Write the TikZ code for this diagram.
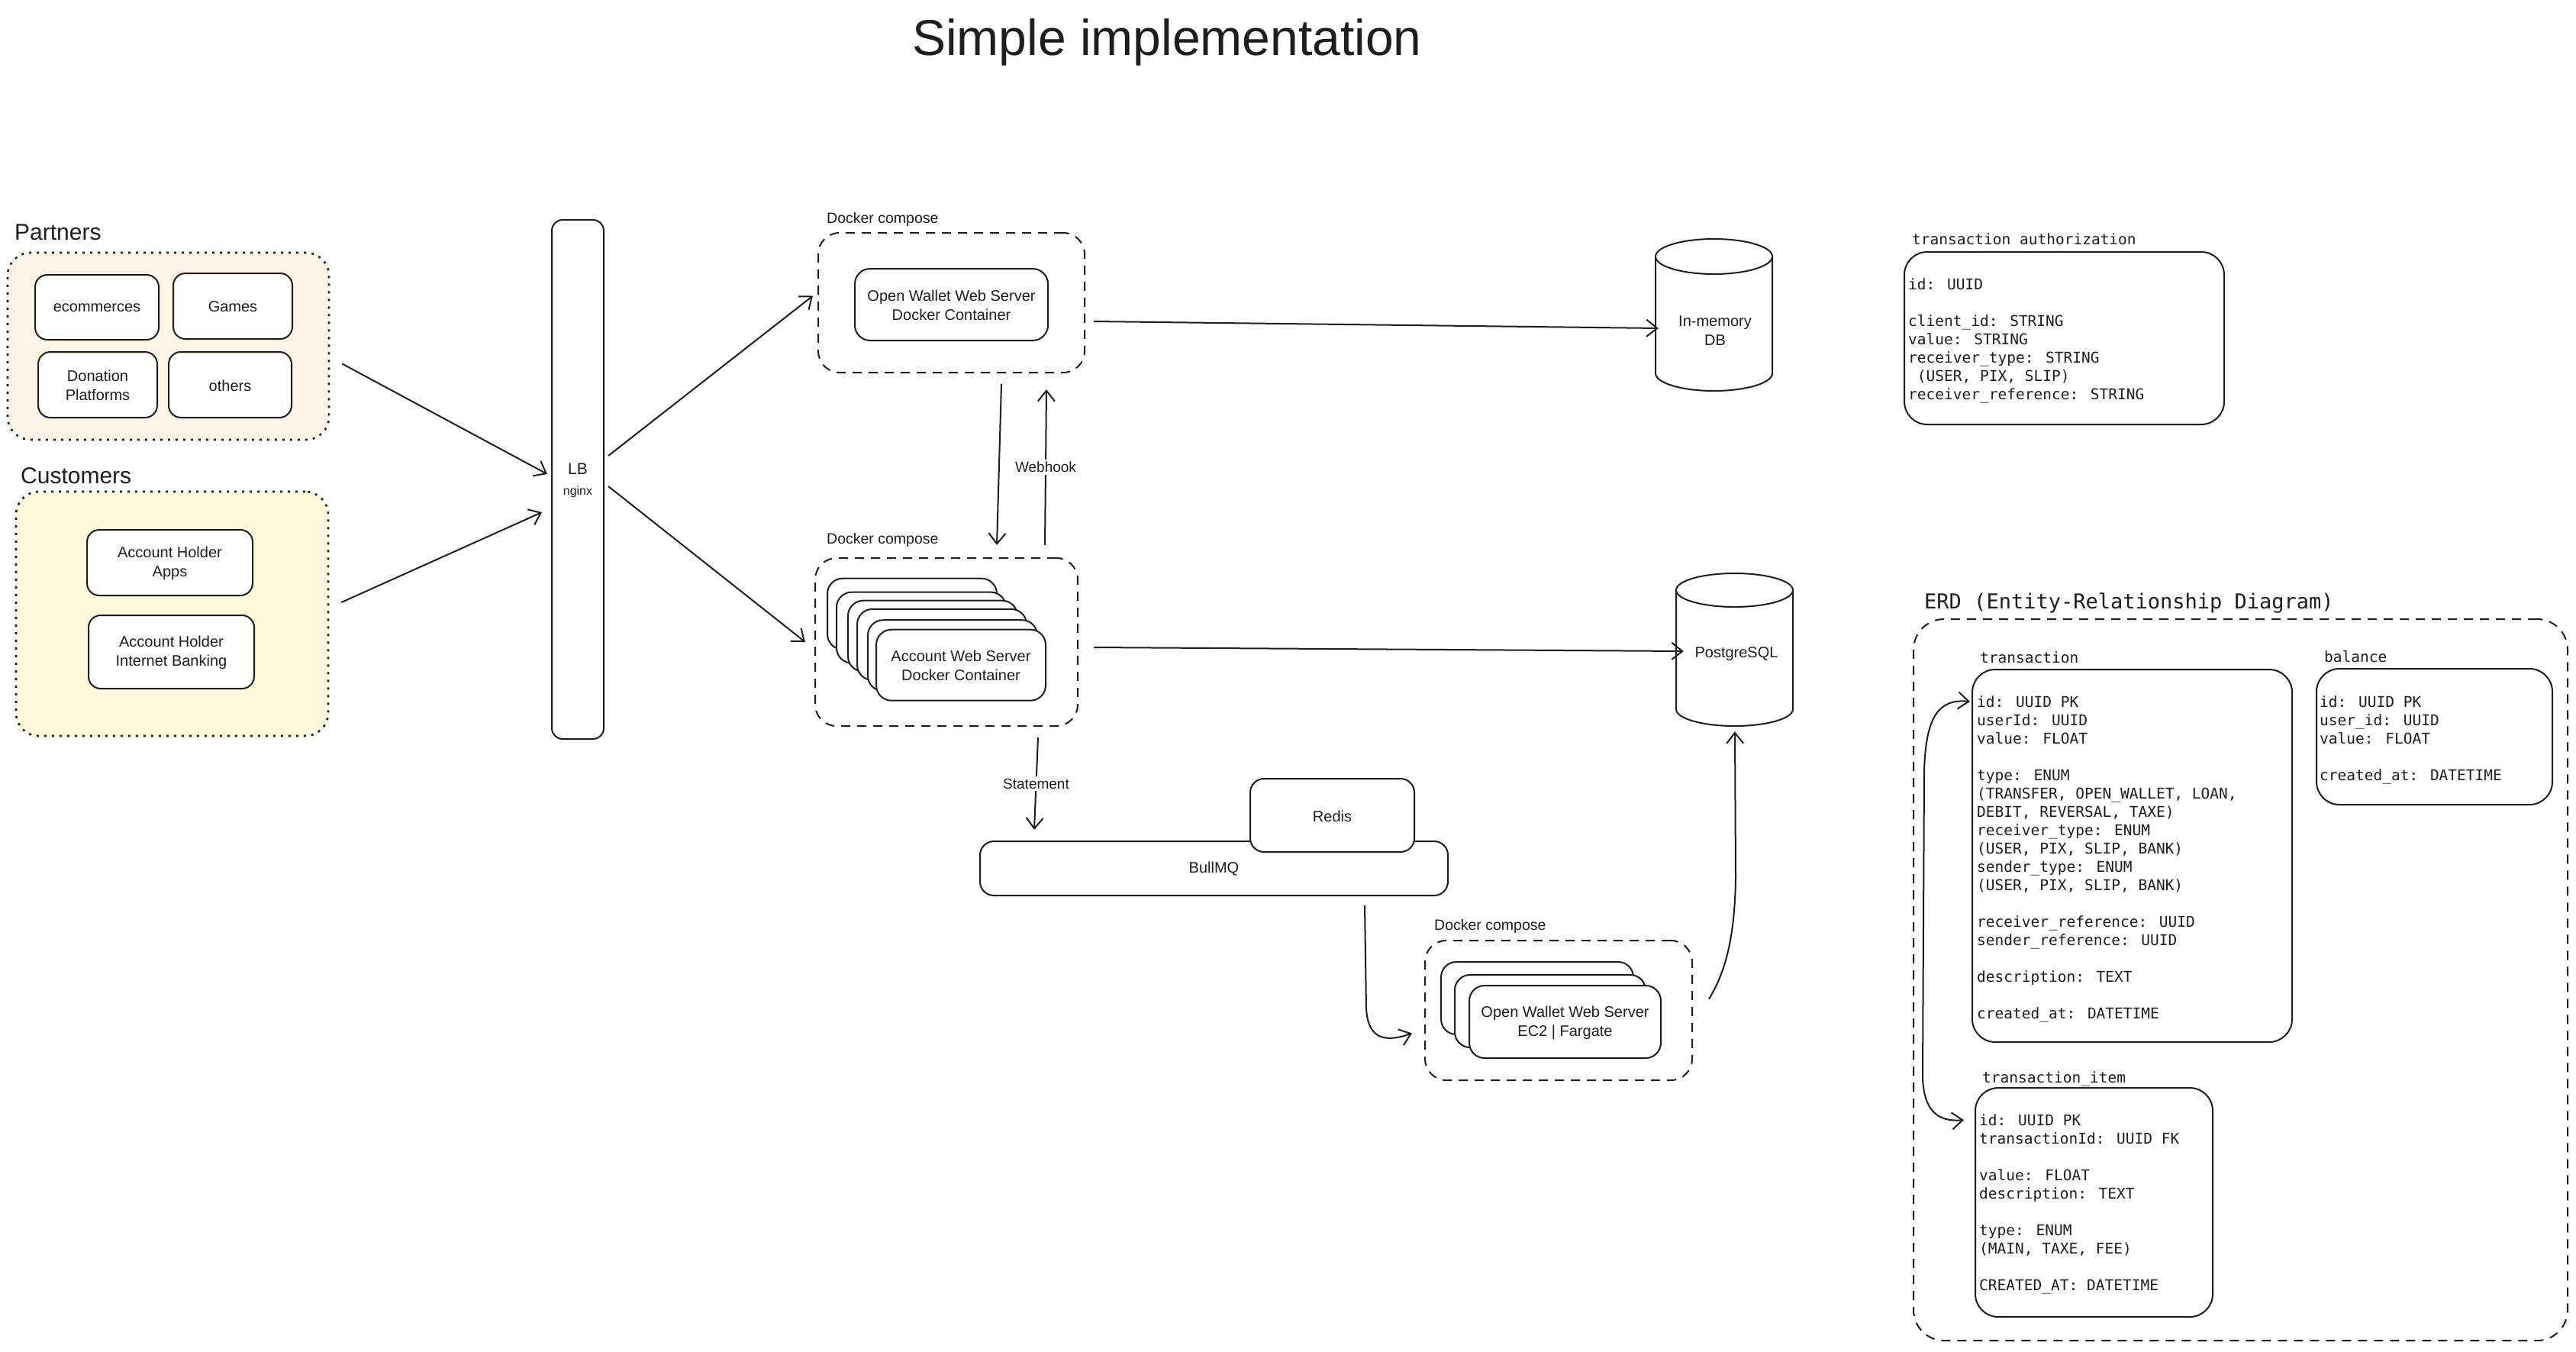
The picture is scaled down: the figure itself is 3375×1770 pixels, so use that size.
\documentclass[tikz,border=0pt]{standalone}
\usepackage{fontspec}
\setmainfont{Liberation Sans}
\newfontfamily\erdmono{DejaVu Sans Mono}
\usetikzlibrary{arrows.meta,calc,fit}
\definecolor{ink}{HTML}{1E1E1E}
\definecolor{partfill}{HTML}{FFF4E6}
\definecolor{custfill}{HTML}{FFF9DB}
% #1 options, #2 name, #3 x1, #4 y1, #5 x2, #6 y2, #7 text
\newcommand{\framedtext}[7]{%
  \node[boxn,#1,fit={(#3,#4) (#5,#6)}] (#2) {};
  \node[boxtxt] (#2t) at ($(#2.center)+(0,1)$) {#7};}
\begin{document}
\begin{tikzpicture}[x=1pt,y=-1pt,
  every node/.style={text=ink},
  hand/.style={font=\fontsize{20}{25}\selectfont},
  boxn/.style={draw=ink, line width=2pt, rounded corners=16pt, fill=white, inner sep=0pt},
  boxtxt/.style={inner sep=0pt, align=center, hand},
  grp/.style={draw=ink, line width=2.6pt, dash pattern=on 3pt off 7pt, rounded corners=30pt, inner sep=0pt},
  compose/.style={draw=ink, line width=2pt, dash pattern=on 12pt off 9pt, rounded corners=28pt, inner sep=0pt},
  erdbox/.style={draw=ink, line width=2pt, rounded corners=30pt, inner sep=0pt},
  monotext/.style={anchor=north west, inner sep=0pt, align=left, font=\erdmono\fontsize{19.5}{24}\selectfont},
  monolbl/.style={anchor=base west, inner sep=0pt, font=\erdmono\fontsize{19.5}{24}\selectfont},
  lbl/.style={anchor=base west, inner sep=0pt, font=\fontsize{19.5}{24}\selectfont},
  edgelbl/.style={fill=white, inner sep=3pt, font=\fontsize{19}{23}\selectfont},
  arr/.style={draw=ink, line width=2pt, -{Straight Barb[length=14pt,width=22pt]}},
  arrb/.style={draw=ink, line width=2pt, {Straight Barb[length=14pt,width=22pt]}-{Straight Barb[length=14pt,width=22pt]}}
]
\fill[white] (0,0) rectangle (3375,1770);
\useasboundingbox (0,0) rectangle (3375,1770);

% title
\node[anchor=base, inner sep=0pt, font=\fontsize{66}{72}\selectfont] (title) at (1529,72) {Simple implementation};

% Partners
\node[grp, fill=partfill, fit={(10,331) (431,576)}] (partners) {};
\node[anchor=base west, inner sep=0pt, font=\fontsize{30}{36}\selectfont] (partnerslbl) at (19,314) {Partners};
\framedtext{}{ecom}{46}{360}{208}{445}{ecommerces}
\framedtext{}{games}{227}{358}{383}{444}{Games}
\framedtext{}{donation}{50}{461}{206}{547}{Donation\\Platforms}
\framedtext{}{others}{221}{461}{382}{547}{others}

% Customers
\node[grp, fill=custfill, fit={(21,644) (430,964)}] (customers) {};
\node[anchor=base west, inner sep=0pt, font=\fontsize{30}{36}\selectfont] (customerslbl) at (27,633) {Customers};
\framedtext{}{apps}{114}{694}{331}{780}{Account Holder\\Apps}
\framedtext{}{ib}{116}{806}{333}{902}{Account Holder\\Internet Banking}

% LB
\node[boxn, rounded corners=14pt, fit={(723,288) (791,968)}] (lb) {};
\node[inner sep=0pt, align=center, font=\fontsize{21}{27}\selectfont] (lbt) at ($(lb.center)+(0,1)$) {LB\\{\fontsize{16}{20}\selectfont nginx}};

% Docker compose 1
\node[lbl] (dc1lbl) at (1083,292) {Docker compose};
\node[compose, fit={(1072,305) (1421,488)}] (owc) {};
\framedtext{rounded corners=20pt}{ow}{1120}{352}{1373}{446}{Open Wallet Web Server\\Docker Container}

% Docker compose 2
\node[lbl] (dc2lbl) at (1083,712) {Docker compose};
\node[compose, fit={(1068,731) (1412,951)}] (accc) {};
\foreach \i/\l/\t in {1/1084/757.7, 2/1096/775.6, 3/1111/786.7, 4/1123/797.9, 5/1137/812.2}
  \node[boxn, rounded corners=20pt, fit={(\l,\t) (\l+222,\t+93)}] (acc\i) {};
\framedtext{rounded corners=20pt}{acc}{1148}{824.7}{1370}{917.7}{Account Web Server\\Docker Container}

% In-memory DB
\node[inner sep=0pt, minimum width=153pt, minimum height=199pt] (db) at (2245.5,412.5) {};
\draw[ink, line width=2pt, fill=white] (2169,336) -- (2169,489) arc[start angle=180, end angle=360, x radius=76.5pt, y radius=23pt] -- (2322,336);
\draw[ink, line width=2pt, fill=white] (2245.5,336) ellipse [x radius=76.5pt, y radius=23pt];
\node[boxtxt] (dbtext) at (2247,433) {In-memory\\DB};

% PostgreSQL
\node[inner sep=0pt, minimum width=153pt, minimum height=202pt] (pg) at (2272.5,850) {};
\draw[ink, line width=2pt, fill=white] (2196,773) -- (2196,929) arc[start angle=180, end angle=360, x radius=76.5pt, y radius=22pt] -- (2349,773);
\draw[ink, line width=2pt, fill=white] (2272.5,773) ellipse [x radius=76.5pt, y radius=22pt];
\node[boxtxt] (pgtext) at (2275,857) {PostgreSQL};

% BullMQ + Redis
\framedtext{rounded corners=18pt}{bull}{1284}{1102}{1897}{1173}{BullMQ}
\framedtext{rounded corners=18pt}{redis}{1638}{1020}{1853}{1116}{Redis}

% Docker compose 3
\node[lbl] (dc3lbl) at (1879,1218) {Docker compose};
\node[compose, fit={(1867,1232) (2217,1415)}] (ec2c) {};
\node[boxn, rounded corners=20pt, fit={(1888,1260) (2140,1355)}] (ec1) {};
\node[boxn, rounded corners=20pt, fit={(1906,1277) (2156,1372)}] (ec2) {};
\framedtext{rounded corners=20pt}{ec}{1925}{1291}{2176}{1386}{Open Wallet Web Server\\EC2 | Fargate}

% transaction authorization
\node[monolbl] (talbl) at (2505,320) {transaction authorization};
\node[erdbox, fit={(2495,330) (2914,556)}] (ta) {};
\node[monotext] (tatext) at (2500,362.2) {\strut id: UUID\\[24pt]
client\_id: STRING\\
value: STRING\\
receiver\_type: STRING\\
~(USER, PIX, SLIP)\\
receiver\_reference: STRING};

% ERD
\node[anchor=base west, inner sep=0pt, font=\erdmono\fontsize{27}{32}\selectfont] (erdlbl) at (2521,797) {ERD (Entity-Relationship Diagram)};
\node[compose, rounded corners=40pt, fit={(2507,811) (3364,1756)}] (erd) {};

\node[monolbl] (txnlbl) at (2594,868) {transaction};
\node[erdbox, fit={(2584,877) (3003,1365)}] (txn) {};
\node[monotext] (txntext) at (2590,909.2) {\strut id: UUID PK\\
userId: UUID\\
value: FLOAT\\[24pt]
type: ENUM\\
(TRANSFER, OPEN\_WALLET, LOAN,\\
DEBIT, REVERSAL, TAXE)\\
receiver\_type: ENUM\\
(USER, PIX, SLIP, BANK)\\
sender\_type: ENUM\\
(USER, PIX, SLIP, BANK)\\[24pt]
receiver\_reference: UUID\\
sender\_reference: UUID\\[24pt]
description: TEXT\\[24pt]
created\_at: DATETIME};

\node[monolbl] (ballbl) at (3045,867) {balance};
\node[erdbox, fit={(3035,876) (3344,1054)}] (bal) {};
\node[monotext] (baltext) at (3039,909.2) {\strut id: UUID PK\\
user\_id: UUID\\
value: FLOAT\\[24pt]
created\_at: DATETIME};

\node[monolbl] (itemlbl) at (2597,1418) {transaction\_item};
\node[erdbox, fit={(2588,1425) (2899,1725)}] (item) {};
\node[monotext] (itemtext) at (2593,1457.2) {\strut id: UUID PK\\
transactionId: UUID FK\\[24pt]
value: FLOAT\\
description: TEXT\\[24pt]
type: ENUM\\
(MAIN, TAXE, FEE)\\[24pt]
CREATED\_AT: DATETIME};

% connectors
\draw[arr] ($(partners.east)+(16,23)$) -- ($(lb.west)+(-5,-7)$);
\draw[arr] ($(customers.east)+(16,-15)$) -- ($(lb.west)+(-12,43)$);
\draw[arr] ($(lb.east)+(5,-31)$) -- ($(owc.west)+(-6,-9)$);
\draw[arr] ($(lb.east)+(5,9)$) -- ($(accc.west)+(-12,0)$);
\draw[arr] ($(owc.east)+(11,24.5)$) -- ($(db.west)+(4,17.5)$);
\draw[arr] ($(owc.south)+(65.5,14)$) -- ($(accc.north)+(66,-16)$);
\draw[arr] ($(accc.north)+(129,-16)$) -- node[edgelbl] (webhook) {Webhook} ($(owc.south)+(124.5,21)$);
\draw[arr] ($(accc.east)+(20,7)$) -- ($(pg.west)+(10,3)$);
\draw[arr] ($(accc.south)+(120,14)$) -- node[edgelbl] (statement) {Statement} ($(bull.north)+(-235.5,-14)$);
\draw[arr] ($(bull.south)+(197.5,12)$) -- ($(bull.south)+(199.5,147)$)
   .. controls ($(bull.south)+(201.5,182)$) and ($(ec2c.west)+(-57,44.5)$) .. ($(ec2c.west)+(-16,30)$);
\draw[arr] ($(ec2c.east)+(21,-15)$) .. controls ($(ec2c.east)+(45,-53.5)$) and ($(ec2c.east)+(55,-103.5)$) .. ($(ec2c.east)+(56,-173.5)$) -- ($(pg.south)+(0.5,7)$);
\draw[arrb] ($(txn.west)+(-2,-202)$) .. controls ($(txn.west)+(-44,-206)$) and ($(txn.west)+(-60,-181)$) .. ($(txn.west)+(-62,-111)$)
   -- ($(item.west)+(-68,-165)$) .. controls ($(item.west)+(-67,-120)$) and ($(item.west)+(-48,-105)$) .. ($(item.west)+(-14,-108)$);
\end{tikzpicture}
\end{document}
